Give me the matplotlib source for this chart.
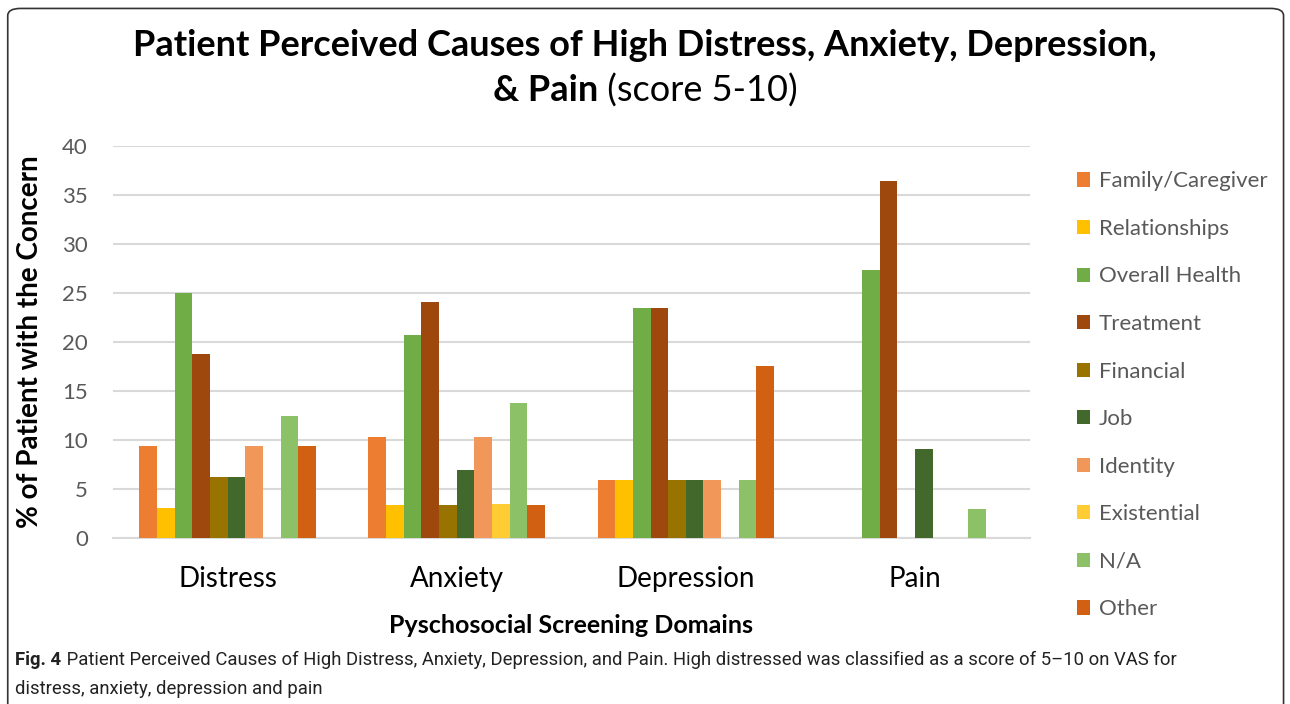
import numpy as np
import matplotlib.pyplot as plt
from matplotlib.patches import FancyBboxPatch

plt.rcParams['font.family'] = ['Lato', 'DejaVu Sans']

# data
domains = ['Distress', 'Anxiety', 'Depression', 'Pain']
causes = ['Family/Caregiver', 'Relationships', 'Overall Health', 'Treatment',
          'Financial', 'Job', 'Identity', 'Existential', 'N/A', 'Other']
family = [9.4, 10.3, 5.9, 0]
relationships = [3.1, 3.4, 5.9, 0]
overall_health = [25.0, 20.7, 23.5, 27.3]
treatment = [18.8, 24.1, 23.5, 36.4]
financial = [6.25, 3.4, 5.9, 0]
job = [6.25, 6.9, 5.9, 9.1]
identity = [9.4, 10.3, 5.9, 0]
existential = [0, 3.5, 0, 0]
na = [12.5, 13.8, 5.9, 3.0]
other = [9.4, 3.4, 17.6, 0]
series = [family, relationships, overall_health, treatment, financial,
          job, identity, existential, na, other]
colors = ['#ED7D31', '#FFC000', '#70AD47', '#9E480E', '#997300',
          '#43682B', '#F1975A', '#FFCD33', '#8CC168', '#D26012']

fig = plt.figure(figsize=(12.9, 7.04), dpi=100)
ax = fig.add_axes([0.0876, 0.2358, 0.7105, 0.5568])

x = np.arange(len(domains))
n = len(series)
w = 0.77 / n
for i, (vals, c, lab) in enumerate(zip(series, colors, causes)):
    ax.bar(x - 0.385 + w * (i + 0.5), vals, width=w, color=c, label=lab,
           zorder=3)

ax.set_xlim(-0.5, 3.5)
ax.set_ylim(0, 40)
ax.set_yticks(range(0, 41, 5))
ax.set_xticks(x)
ax.set_xticklabels(domains, fontsize=20, color='#000000')
ax.tick_params(axis='y', labelsize=16, labelcolor='#595959', length=0, pad=18)
ax.tick_params(axis='x', length=0, pad=20)
ax.yaxis.grid(True, color='#D9D9D9', linewidth=1.5, zorder=0)
for s in ['top', 'right', 'left']:
    ax.spines[s].set_visible(False)
ax.spines['bottom'].set_color('#D9D9D9')
ax.spines['bottom'].set_linewidth(1.5)
ax.set_ylabel('% of Patient with the Concern', fontsize=20, fontweight='bold',
              labelpad=14)
ax.set_xlabel('Pyschosocial Screening Domains', fontsize=18, fontweight='bold',
              labelpad=16)

leg = fig.legend(loc='upper left', bbox_to_anchor=(0.819, 0.785), frameon=False,
                 fontsize=16, labelspacing=1.24, handlelength=0.6,
                 handleheight=0.6, handletextpad=0.4)
for t in leg.get_texts():
    t.set_color('#595959')

# title: two lines, second line mixes bold and normal
fig.text(0.5, 0.935, 'Patient Perceived Causes of High Distress, Anxiety, Depression,',
         ha='center', va='center', fontsize=26, fontweight='bold')
fig.canvas.draw()
r = fig.canvas.get_renderer()
t1 = fig.text(0, 0.871, '& Pain', fontsize=26, fontweight='bold', va='center')
t2 = fig.text(0, 0.871, ' (score 5-10)', fontsize=26, va='center')
w1 = t1.get_window_extent(r).width / fig.bbox.width
w2 = t2.get_window_extent(r).width / fig.bbox.width
x0 = 0.5 - (w1 + w2) / 2
t1.set_x(x0)
t2.set_x(x0 + w1)

# caption
cap_font = ['Liberation Sans Narrow', 'Roboto', 'DejaVu Sans']
c1 = fig.text(0.012, 0.062, 'Fig. 4', fontsize=13.3, fontweight='bold',
              family=cap_font, va='center', color='#222222')
w3 = c1.get_window_extent(r).width / fig.bbox.width
fig.text(0.012 + w3, 0.062,
         ' Patient Perceived Causes of High Distress, Anxiety, Depression, and Pain. '
         'High distressed was classified as a score of 5\u201310 on VAS for',
         fontsize=13.3, family=cap_font, va='center', color='#222222')
fig.text(0.012, 0.022, 'distress, anxiety, depression and pain', fontsize=13.3,
         family=cap_font, va='center', color='#222222')

# rounded border
box = FancyBboxPatch((0.006, -0.05), 0.989, 1.038, transform=fig.transFigure,
                     boxstyle='round,pad=0,rounding_size=0.01', fill=False,
                     edgecolor='#333333', linewidth=1.2)
fig.patches.append(box)

fig.savefig('out.png', dpi=100)
